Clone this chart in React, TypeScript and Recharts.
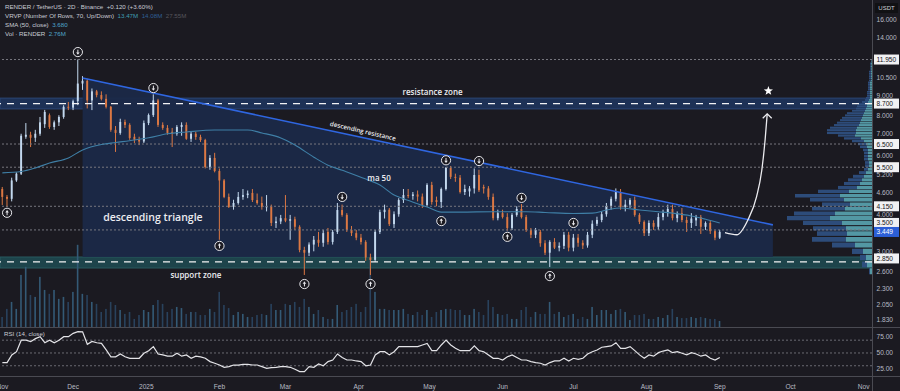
import React from 'react';
import { ComposedChart, Bar, Line, Area, XAxis, YAxis, ReferenceLine, ReferenceArea, ReferenceDot } from 'recharts';

// RENDER / USDT, 2D candles, Nov 2024 - Sep 2025. Values.
// [open, high, low, close]
const candles: [number, number, number, number][] = [
  [4.70, 4.77, 4.19, 4.44], [4.44, 4.50, 4.13, 4.38], [4.38, 5.10, 4.30, 5.00], [5.00, 5.30, 4.95, 5.25],
  [5.25, 7.00, 5.20, 6.90], [6.85, 7.56, 6.75, 6.95], [6.95, 7.10, 6.36, 6.80], [6.80, 7.20, 6.60, 7.00],
  [7.00, 7.90, 6.90, 7.60], [7.50, 8.31, 7.30, 8.19], [8.00, 8.10, 7.25, 7.35], [7.35, 7.70, 7.20, 7.60],
  [7.60, 8.00, 7.40, 7.90], [7.90, 8.60, 7.80, 8.50], [8.50, 8.80, 8.30, 8.45], [8.45, 8.95, 8.30, 8.85],
  [8.85, 11.95, 8.60, 10.05], [10.05, 10.60, 9.60, 10.25], [10.25, 10.40, 8.40, 8.90], [8.90, 9.70, 8.30, 9.50],
  [9.50, 9.60, 9.10, 9.25], [9.25, 9.50, 8.90, 9.00], [9.00, 9.30, 8.40, 8.50], [8.50, 8.55, 7.10, 7.20],
  [7.20, 7.40, 6.14, 7.04], [7.04, 7.80, 6.95, 7.62], [7.62, 7.75, 7.30, 7.46], [7.46, 7.55, 6.70, 6.79],
  [6.85, 7.00, 6.55, 6.70], [6.70, 6.85, 6.45, 6.62], [6.62, 7.70, 6.55, 7.56], [7.56, 8.10, 7.45, 8.01],
  [8.01, 9.30, 7.90, 8.90], [8.90, 9.00, 7.35, 7.46], [7.46, 7.60, 7.20, 7.30], [7.30, 7.45, 6.95, 7.04],
  [7.10, 7.30, 6.36, 7.00], [7.00, 7.45, 6.90, 7.35], [7.35, 7.60, 6.90, 7.46], [7.46, 7.60, 6.70, 6.75],
  [6.75, 7.10, 6.60, 7.00], [7.00, 7.10, 6.70, 6.84], [6.84, 6.95, 6.60, 6.69], [6.69, 6.75, 5.45, 5.51],
  [5.51, 6.00, 5.40, 5.88], [5.88, 6.10, 5.30, 5.35], [5.35, 5.45, 3.26, 5.00], [5.00, 5.05, 4.40, 4.44],
  [4.44, 4.55, 4.10, 4.13], [4.13, 4.35, 4.05, 4.25], [4.25, 4.60, 4.20, 4.44], [4.44, 4.70, 4.35, 4.50],
  [4.50, 4.65, 4.40, 4.55], [4.57, 4.70, 4.28, 4.34], [4.34, 4.55, 4.20, 4.25], [4.25, 4.45, 4.05, 4.13],
  [4.13, 4.50, 4.00, 4.15], [4.15, 4.20, 3.60, 3.68], [3.68, 3.85, 3.55, 3.72], [3.72, 3.90, 3.65, 3.81],
  [3.81, 4.50, 3.70, 3.74], [3.74, 3.90, 3.26, 3.78], [3.78, 3.85, 3.50, 3.58], [3.58, 3.62, 2.98, 3.03],
  [3.03, 3.10, 2.53, 2.97], [2.97, 3.20, 2.90, 3.15], [3.15, 3.35, 3.00, 3.26], [3.26, 3.45, 3.10, 3.19],
  [3.19, 3.50, 3.10, 3.42], [3.45, 3.55, 3.15, 3.21], [3.21, 3.50, 3.15, 3.45], [3.45, 4.25, 3.40, 4.04],
  [4.04, 4.20, 3.85, 3.90], [3.90, 3.95, 3.45, 3.50], [3.50, 3.60, 3.35, 3.42], [3.42, 3.50, 3.25, 3.31],
  [3.31, 3.40, 3.15, 3.21], [3.21, 3.25, 2.80, 2.87], [2.87, 2.95, 2.53, 2.82], [2.82, 3.50, 2.78, 3.45],
  [3.45, 4.05, 3.40, 3.98], [3.98, 4.20, 3.80, 4.05], [4.05, 4.10, 3.60, 3.65], [3.65, 4.00, 3.55, 3.92],
  [3.92, 4.40, 3.85, 4.34], [4.34, 4.70, 4.25, 4.50], [4.50, 4.70, 4.40, 4.47], [4.47, 4.60, 4.35, 4.52],
  [4.52, 4.65, 4.30, 4.45], [4.45, 4.55, 4.10, 4.19], [4.19, 4.90, 4.15, 4.84], [4.84, 4.95, 4.20, 4.28],
  [4.34, 4.45, 4.15, 4.28], [4.28, 4.75, 4.10, 4.70], [4.70, 5.51, 4.65, 5.47], [5.47, 5.55, 5.05, 5.13],
  [5.13, 5.25, 4.95, 5.10], [5.10, 5.20, 4.55, 4.60], [4.60, 4.85, 4.50, 4.70], [4.62, 4.80, 4.45, 4.72],
  [4.72, 5.45, 4.55, 5.20], [5.20, 5.40, 4.60, 4.66], [4.77, 4.85, 4.55, 4.72], [4.72, 4.80, 4.35, 4.44],
  [4.44, 4.55, 3.75, 3.81], [3.81, 4.05, 3.75, 3.95], [3.95, 4.05, 3.80, 3.84], [3.84, 3.95, 3.48, 3.55],
  [3.55, 3.95, 3.50, 3.90], [3.90, 4.15, 3.85, 4.07], [4.07, 4.22, 3.80, 3.84], [3.84, 3.90, 3.45, 3.50],
  [3.50, 3.55, 3.30, 3.38], [3.38, 3.55, 3.30, 3.50], [3.45, 3.50, 3.10, 3.18], [3.18, 3.25, 2.92, 2.97],
  [2.97, 3.25, 2.68, 3.21], [3.21, 3.30, 3.05, 3.08], [3.08, 3.20, 3.00, 3.12], [3.12, 3.45, 3.05, 3.38],
  [3.38, 3.45, 3.00, 3.08], [3.08, 3.40, 3.00, 3.31], [3.31, 3.40, 3.10, 3.19], [3.19, 3.25, 3.05, 3.13],
  [3.13, 3.45, 3.08, 3.38], [3.38, 3.75, 3.30, 3.66], [3.66, 3.85, 3.60, 3.76], [3.76, 4.00, 3.70, 3.92],
  [3.92, 4.25, 3.85, 4.16], [4.16, 4.45, 4.05, 4.38], [4.38, 4.72, 4.30, 4.60], [4.60, 4.70, 4.05, 4.13],
  [4.13, 4.35, 4.00, 4.20], [4.20, 4.40, 4.10, 4.34], [4.34, 4.45, 3.85, 3.90], [3.90, 3.95, 3.65, 3.71],
  [3.71, 3.75, 3.35, 3.42], [3.42, 3.75, 3.35, 3.68], [3.68, 3.75, 3.50, 3.58], [3.58, 3.95, 3.50, 3.84],
  [3.84, 4.05, 3.75, 3.95], [3.95, 4.20, 3.85, 4.07], [4.07, 4.20, 3.75, 3.81], [3.81, 4.00, 3.70, 3.95],
  [3.95, 4.10, 3.70, 3.76], [3.76, 3.85, 3.45, 3.68], [3.68, 3.95, 3.55, 3.80], [3.75, 3.90, 3.60, 3.84],
  [3.84, 3.90, 3.40, 3.58], [3.58, 3.72, 3.50, 3.68], [3.68, 3.75, 3.40, 3.47], [3.47, 3.50, 3.25, 3.31],
  [3.31, 3.50, 3.28, 3.45],
];

// volume per candle, millions
const volumes = [
  4.6, 8.3, 11.5, 8.3, 23.9, 27.6, 14.7, 13.8, 23, 17,
  15.2, 17, 12.9, 13.8, 11.5, 16.1, 37.7, 15.2, 14.7, 11.5,
  10.6, 6.9, 8.3, 11.5, 10.1, 7.8, 6, 6.9, 3.7, 5.5,
  7.8, 6.9, 10.1, 12.4, 10.6, 6.9, 8.3, 9.2, 8.7, 6,
  6.9, 6.9, 5.5, 5.5, 8.3, 6.9, 16.1, 10.1, 8.7, 5.5,
  6.9, 6, 4.6, 4.6, 5.5, 6, 5.5, 10.6, 7.8, 7.8,
  10.6, 10.1, 11.5, 9.2, 12.9, 9.2, 6, 7.8, 4.6, 3.7,
  3.7, 10.1, 6.9, 7.8, 9.2, 10.6, 6.9, 9.2, 31.3, 16.1,
  8.3, 8.3, 7.8, 7.8, 7.8, 8.3, 6, 5.5, 6.9, 5.5,
  7.8, 4.6, 6.9, 7.8, 8.3, 8.3, 7.8, 7.8, 5.5, 5.5,
  8.3, 6.9, 5.5, 12.4, 9.2, 6, 5.5, 6, 3.7, 3.7,
  7.8, 9.2, 4.6, 6.9, 6, 6, 11.5, 6, 6.9, 4.6,
  5.5, 6, 3.7, 4.6, 3.7, 9.2, 5.5, 7.8, 7.8, 6,
  7.8, 8.3, 6.9, 3.2, 5.5, 5.5, 6, 3.7, 3.7, 4.6,
  4.1, 5.5, 8.3, 4.6, 4.1, 4.1, 4.6, 4.1, 4.6, 4.1,
  3.7, 3.7, 2.76,
];

const rsiValues = [
  35, 35, 47, 52, 70, 70, 67.7, 72.4, 75.5, 66,
  70, 66, 70, 75.5, 75.5, 80.7, 83.3, 83, 63.6, 68,
  66, 65, 54.7, 44, 44, 48.4, 44, 41.7, 41.7, 41.7,
  49.5, 53.6, 59.9, 48.4, 46.9, 45, 45, 49.5, 45, 47,
  41.7, 45, 44, 41.7, 36.5, 33.9, 31.2, 27.6, 28.6, 31.2,
  31, 32.3, 32.3, 31.2, 31.2, 28.6, 26, 27, 27.6, 28.6,
  28.6, 27.6, 24.5, 20.8, 20.8, 28.6, 27.6, 32.8, 30, 36.5,
  39, 48.4, 43, 39, 39, 37.5, 36.5, 30, 31.2, 47,
  52, 52, 47, 52, 59.9, 60, 60, 60, 60, 62.5,
  65, 53.6, 53.6, 62.5, 70, 62.5, 57.3, 53.6, 53.6, 53.6,
  61, 53.6, 52, 47, 41.7, 41.7, 39, 44, 47, 43,
  39, 39, 36.5, 35, 33.9, 31.2, 35, 37.5, 37.5, 41.7,
  37.5, 41.7, 40.1, 41.7, 48.4, 52, 54.7, 58.9, 60, 61,
  66, 57.3, 57.3, 60, 53.6, 47, 41.7, 47, 45, 50.5,
  53, 54.7, 50.5, 52, 49.5, 47, 50.5, 48.4, 45, 47,
  41.7, 39, 43,
];

// [candle index, SMA 50]
const smaPoints: [number, number][] = [
  [0, 5.28], [4, 5.33], [7, 5.47], [10, 5.67], [14, 5.88], [17, 6.23], [21, 6.48], [24, 6.57],
  [28, 6.69], [31, 6.80], [35, 7.0], [39, 7.09], [45, 7.19], [52, 7.19], [55, 7.04], [59, 6.79],
  [62, 6.45], [66, 5.91], [69, 5.58], [72, 5.38], [77, 5.05], [80, 4.84], [83, 4.50], [85, 4.38],
  [90, 4.13], [93, 3.98], [97, 3.98], [104, 3.99], [111, 3.99], [115, 3.97], [121, 3.94], [125, 3.95],
  [128, 4.04], [131, 4.10], [135, 4.04], [139, 3.99], [142, 3.95], [146, 3.87], [149, 3.78], [152, 3.68],
];

// day 0 = 31 Oct 2024
const monthDays = [1, 31, 62, 93, 121, 152, 182, 213, 243, 274, 305, 335, 366];
const monthLabels = ['Nov', 'Dec', '2025', 'Feb', 'Mar', 'Apr', 'May', 'Jun', 'Jul', 'Aug', 'Sep', 'Oct', 'Nov'];

const plainTicks = [16, 14, 10.5, 9, 8, 7, 6, 5.2, 4.6, 4, 3, 2.6, 2.3, 2.05, 1.83];
const levelTicks = [11.95, 8.7, 6.5, 5.5, 4.15, 3.5, 2.85];
const lastPrice = 3.449;
const rsiTicks = [25, 50, 75];

// visible range volume profile: 70 rows, row mid price, up / down volume
const vpStep = 0.1346;
const vpPrice = [
  2.60, 2.73, 2.87, 3.00, 3.14, 3.27, 3.41, 3.54, 3.68, 3.81, 3.94, 4.08, 4.21, 4.35,
  4.48, 4.62, 4.75, 4.89, 5.02, 5.15, 5.29, 5.42, 5.56, 5.69, 5.83, 5.96, 6.10, 6.23,
  6.37, 6.50, 6.64, 6.77, 6.91, 7.04, 7.18, 7.31, 7.45, 7.58, 7.72, 7.85, 7.99, 8.12,
  8.26, 8.39, 8.53, 8.66, 8.80, 8.93, 9.07, 9.20, 9.34, 9.47, 9.61, 9.74, 9.88, 10.01,
  10.15, 10.28, 10.42, 10.55, 10.69, 10.82, 10.96, 11.09, 11.23, 11.36, 11.50, 11.63, 11.77, 11.90,
];
const vpUp = [
  2, 5, 6, 9, 17, 26, 25, 26, 30, 42, 37, 27, 22, 28,
  32, 23, 15, 12, 10, 8, 6, 4, 3, 3, 4, 4, 4, 4,
  5, 6, 8, 11, 17, 16, 16, 15, 13, 12, 11, 10, 9, 8,
  7, 6, 5, 5, 4, 3, 2, 2, 2, 2, 2, 2, 2, 2,
  2, 1, 1, 1, 1, 1, 1, 1, 1, 1, 1, 1, 0.5, 0.5,
];
const vpDown = [
  1, 5, 6, 11, 23, 34, 30, 33, 39, 43, 41, 33, 28, 34,
  45, 31, 19, 16, 14, 11, 7, 4, 4, 4, 4, 4, 4, 5,
  7, 8, 12, 17, 17, 29, 29, 27, 25, 23, 21, 20, 18, 17,
  13, 10, 10, 9, 6, 4, 4, 3, 3, 3, 2, 2, 2, 2,
  2, 2, 2, 2, 2, 2, 2, 1, 1, 1, 1, 1, 0.5, 0.5,
];

// drawings: [day, price]
const resistanceLine: [number, number][] = [[35, 10.46], [327.5, 3.63]];
const projection: [number, number][] = [
  [307.2, 3.43], [312.2, 3.38], [316.9, 3.76], [320.6, 4.45], [322.8, 5.38], [324.2, 6.69], [325.1, 8.08],
];
const target: [number, number] = [325.6, 9.53];
const highMarks: [number, number][] = [[33, 12.61], [65, 9.73], [145, 4.44], [189, 5.78], [203, 5.75], [221, 4.41], [243, 3.68]];
const lowMarks: [number, number][] = [[3, 3.96], [93, 3.12], [129, 2.37], [157, 2.37], [187, 3.73], [215, 3.33], [233, 2.51]];
const resistanceZone: [number, number] = [8.37, 9.05];
const resistanceLevel = 8.7;
const supportZone: [number, number] = [2.66, 2.88];
const supportLevel = 2.78;
const dottedLevels = [11.95, 6.5, 5.5, 4.15, 3.5];

const notes = [
  { text: 'resistance zone', day: 183.3, price: 9.46, size: 8, angle: 0 },
  { text: 'descending resistance', day: 153.8, price: 7.15, size: 6.3, angle: 13 },
  { text: 'ma 50', day: 160.6, price: 5.12, size: 8, angle: 0 },
  { text: 'descending triangle', day: 64.8, price: 3.84, size: 10.5, angle: 0 },
  { text: 'support zone', day: 83, price: 2.53, size: 8, angle: 0 },
];

const W = 900;
const MAIN_H = 327;
const AXIS_W = 28;
const AXIS_X = W - AXIS_W;
const X_DOMAIN: [number, number] = [0, 369.5];
const PX_PER_DAY = AXIS_X / X_DOMAIN[1];
const P_DOMAIN: [number, number] = [1.739, 18.35];
const BG = '#1b1a21';
const UP = '#c3d8ee';
const DOWN = '#dc7843';
const TXT = '#b8bbc4';
const FONT = '"Liberation Sans", Arial, sans-serif';
const NOTE_FONT = '"Open Sans", "Noto Sans", sans-serif';

type Row = {
  day: number; o?: number; h?: number; l?: number; c?: number; range?: [number, number];
  vol?: number; rsi?: number; sma?: number; tri?: [number, number]; proj?: number;
};
const rowMap = new Map<number, Row>();
const rowAt = (day: number) => {
  let r = rowMap.get(day);
  if (!r) { r = { day }; rowMap.set(day, r); }
  return r;
};
candles.forEach(([o, h, l, c], i) =>
  Object.assign(rowAt(1 + 2 * i), { o, h, l, c, range: [l, h], vol: volumes[i], rsi: rsiValues[i] }));
smaPoints.forEach(([i, v]) => { rowAt(1 + 2 * i).sma = v; });
resistanceLine.forEach(([d, p]) => { rowAt(d).tri = [supportZone[1], p]; });
projection.forEach(([d, p]) => { rowAt(d).proj = p; });
const rows = [...rowMap.values()].sort((a, b) => a.day - b.day);

const Candle = (props: any) => {
  const { x, y, width, height, payload } = props;
  if (!payload || payload.o == null || !Number.isFinite(y)) return <g />;
  const { o, h, l, c } = payload;
  const top = Math.min(y, y + height);
  const span = Math.abs(height);
  const lh = Math.log(h), ll = Math.log(l);
  const py = (v: number) => (lh > ll ? top + (span * (lh - Math.log(v))) / (lh - ll) : top);
  const color = c >= o ? UP : DOWN;
  const b1 = py(Math.max(o, c));
  const b2 = py(Math.min(o, c));
  const cx = x + width / 2;
  return (
    <g>
      <line x1={cx} x2={cx} y1={top} y2={top + span} stroke={color} strokeWidth={1} />
      <rect x={x} y={b1} width={width} height={Math.max(1, b2 - b1)} fill={color} />
    </g>
  );
};

const VolBar = (props: any) => {
  const { x, y, width, height, payload } = props;
  if (!payload || payload.vol == null || !Number.isFinite(y)) return <g />;
  return <rect x={x} y={y} width={width} height={Math.max(0, height)} fill={payload.c >= payload.o ? '#345a76' : '#29425d'} />;
};

const PriceTick = (props: any) => {
  const { y, payload } = props;
  const v = payload.value as number;
  const label = v.toFixed(3);
  const isLast = v === lastPrice;
  const boxed = isLast || levelTicks.includes(v);
  if (boxed) {
    const yy = v === 3.5 ? y - 7 : y;
    return (
      <g>
        <rect x={AXIS_X + 2} y={yy - 5} width={25} height={10} fill={isLast ? '#2c5fd6' : '#f1f1f3'} />
        <text x={AXIS_X + 4.5} y={yy + 2.5} fontSize={6.6} fontFamily={FONT} fill={isLast ? '#ffffff' : '#131316'}>{label}</text>
      </g>
    );
  }
  // labels that sit under a level box are nudged clear of it
  const dy = v === 9 ? -3 : v === 4 ? 3 : 0;
  return <text x={AXIS_X + 4.5} y={y + 2.5 + dy} fontSize={6.6} fontFamily={FONT} fill={TXT}>{label}</text>;
};

const RsiTick = (props: any) => (
  <text x={AXIS_X + 4.5} y={props.y + 2.5} fontSize={6.6} fontFamily={FONT} fill={TXT}>
    {(props.payload.value as number).toFixed(2)}
  </text>
);

const TimeTick = (props: any) => {
  const idx = monthDays.indexOf(props.payload.value);
  return (
    <text x={props.x} y={props.y + 5} textAnchor="middle" fontSize={6.6} fontFamily={FONT} fill={TXT}>
      {monthLabels[idx]}
    </text>
  );
};

const Marker = ({ cx, cy, dir }: { cx: number; cy: number; dir: 'up' | 'down' }) => {
  const s = dir === 'down' ? 1 : -1;
  return (
    <g>
      <circle cx={cx} cy={cy} r={4.6} fill={BG} stroke="#e8e8ec" strokeWidth={1} />
      <line x1={cx} x2={cx} y1={cy - 2.4 * s} y2={cy + 2.2 * s} stroke="#e8e8ec" strokeWidth={1} />
      <path d={`M${cx - 1.8} ${cy + 0.4 * s} L${cx} ${cy + 2.5 * s} L${cx + 1.8} ${cy + 0.4 * s} Z`} fill="#e8e8ec" />
    </g>
  );
};

const Star = ({ cx, cy }: { cx: number; cy: number }) => {
  const pts: string[] = [];
  for (let k = 0; k < 10; k++) {
    const r = k % 2 === 0 ? 4.8 : 2;
    const a = -Math.PI / 2 + (k * Math.PI) / 5;
    pts.push(`${cx + r * Math.cos(a)},${cy + r * Math.sin(a)}`);
  }
  return <polygon points={pts.join(' ')} fill="#ffffff" />;
};

const Note = ({ cx, cy, text, size, angle }: any) => (
  <text
    x={cx} y={cy} textAnchor="middle" dominantBaseline="central" fontSize={size} fontWeight={600}
    fontFamily={NOTE_FONT} fill="#ececf0" transform={angle ? `rotate(${angle} ${cx} ${cy})` : undefined}
  >
    {text}
  </text>
);

export default function App() {
  const last = projection[projection.length - 1];
  const right = X_DOMAIN[1];
  return (
    <div style={{ position: 'absolute', left: 0, top: 0, width: W, height: 391, background: BG, overflow: 'hidden' }}>
      <div style={{ position: 'absolute', left: 0, top: 0 }}>
        <ComposedChart width={W} height={MAIN_H} data={rows} margin={{ top: 0, right: 0, left: 0, bottom: 0 }}>
          <XAxis dataKey="day" type="number" domain={X_DOMAIN} allowDataOverflow hide />
          <XAxis xAxisId="vx" dataKey="day" type="number" domain={X_DOMAIN} allowDataOverflow hide />
          <YAxis
            orientation="right" width={AXIS_W} scale="log" domain={P_DOMAIN} allowDataOverflow
            ticks={[...plainTicks, ...levelTicks, lastPrice]} interval={0} tick={<PriceTick />}
            tickLine={false} axisLine={false}
          />
          <YAxis yAxisId="vol" hide domain={[0, 150]} />

          <ReferenceArea y1={resistanceZone[0]} y2={resistanceZone[1]} fill="#1d3156" fillOpacity={1} stroke="#2b4573" />
          <ReferenceArea y1={supportZone[0]} y2={supportZone[1]} fill="#1d444b" fillOpacity={1} stroke="#285a60" />

          {/* volume profile rows: down part outside, up part next to the axis */}
          {vpPrice.map((p, k) => (
            <ReferenceArea
              key={`vd${k}`} x1={right - (vpUp[k] + vpDown[k]) / PX_PER_DAY} x2={right - vpUp[k] / PX_PER_DAY}
              y1={p - vpStep * 0.42} y2={p + vpStep * 0.42} fill="#2e4f80" fillOpacity={0.95} stroke="none"
            />
          ))}
          {vpPrice.map((p, k) => (
            <ReferenceArea
              key={`vu${k}`} x1={right - vpUp[k] / PX_PER_DAY} x2={right}
              y1={p - vpStep * 0.42} y2={p + vpStep * 0.42} fill="#569fac" fillOpacity={0.95} stroke="none"
            />
          ))}

          <Area dataKey="tri" type="linear" fill="#1b2948" fillOpacity={0.95} stroke="none" connectNulls dot={false} activeDot={false} isAnimationActive={false} />
          {dottedLevels.map((v) => (
            <ReferenceLine key={v} y={v} stroke="#77777f" strokeDasharray="2 2" strokeWidth={1} />
          ))}
          <ReferenceLine y={resistanceLevel} stroke="#f2f2f4" strokeDasharray="7 6" strokeWidth={1.3} />
          <ReferenceLine y={supportLevel} stroke="#f2f2f4" strokeDasharray="7 6" strokeWidth={1.3} />

          <Bar xAxisId="vx" yAxisId="vol" dataKey="vol" barSize={1.6} shape={<VolBar />} isAnimationActive={false} />
          <Line dataKey="sma" type="monotone" stroke="#3f7fa6" strokeWidth={1.1} dot={false} activeDot={false} connectNulls isAnimationActive={false} />
          <Bar dataKey="range" barSize={3.6} shape={<Candle />} isAnimationActive={false} />
          <ReferenceLine
            segment={[{ x: resistanceLine[0][0], y: resistanceLine[0][1] }, { x: resistanceLine[1][0], y: resistanceLine[1][1] }]}
            stroke="#2f66e0" strokeWidth={1.6}
          />
          <Line dataKey="proj" type="monotone" stroke="#ececf0" strokeWidth={1.3} dot={false} activeDot={false} connectNulls isAnimationActive={false} />
          <ReferenceDot
            x={last[0]} y={last[1]} r={0}
            shape={(p: any) => <path d={`M${p.cx - 4.5} ${p.cy + 4.5} L${p.cx} ${p.cy} L${p.cx + 4.5} ${p.cy + 4.5}`} stroke="#ececf0" strokeWidth={1.3} fill="none" />}
          />
          <ReferenceDot x={target[0]} y={target[1]} r={0} shape={(p: any) => <Star cx={p.cx} cy={p.cy} />} />
          {highMarks.map(([d, p]) => (
            <ReferenceDot key={`h${d}`} x={d} y={p} r={0} shape={(q: any) => <Marker cx={q.cx} cy={q.cy} dir="down" />} />
          ))}
          {lowMarks.map(([d, p]) => (
            <ReferenceDot key={`l${d}`} x={d} y={p} r={0} shape={(q: any) => <Marker cx={q.cx} cy={q.cy} dir="up" />} />
          ))}
          {notes.map((n) => (
            <ReferenceDot key={n.text} x={n.day} y={n.price} r={0} shape={(q: any) => <Note cx={q.cx} cy={q.cy} {...n} />} />
          ))}
        </ComposedChart>
      </div>

      <div style={{ position: 'absolute', left: 0, top: MAIN_H }}>
        <ComposedChart width={W} height={64} data={rows} margin={{ top: 0, right: 0, left: 0, bottom: 0 }}>
          <XAxis
            dataKey="day" type="number" domain={X_DOMAIN} allowDataOverflow height={15}
            ticks={monthDays} interval={0} tick={<TimeTick />} tickLine={false} axisLine={false}
          />
          <YAxis
            orientation="right" width={AXIS_W} domain={[14, 90.6]} allowDataOverflow
            ticks={rsiTicks} interval={0} tick={<RsiTick />} tickLine={false} axisLine={false}
          />
          <ReferenceLine y={70} stroke="#6a6a72" strokeDasharray="2 2" />
          <ReferenceLine y={50} stroke="#6a6a72" strokeDasharray="2 2" />
          <ReferenceLine y={30} stroke="#6a6a72" strokeDasharray="2 2" />
          <Line dataKey="rsi" type="linear" stroke="#e4e4e8" strokeWidth={1.2} dot={false} activeDot={false} isAnimationActive={false} />
        </ComposedChart>
      </div>

      {/* pane separators */}
      <div style={{ position: 'absolute', left: 0, top: MAIN_H, width: W, height: 1, background: '#4a4a52' }} />
      <div style={{ position: 'absolute', left: 0, top: 376, width: W, height: 1, background: '#4a4a52' }} />
      <div style={{ position: 'absolute', left: AXIS_X, top: 0, width: 1, height: 391, background: '#4a4a52' }} />

      {/* legend */}
      <div style={{ position: 'absolute', left: 5, top: 2, fontFamily: FONT, fontSize: 6.2, lineHeight: '9px', color: '#c9ccd4', whiteSpace: 'nowrap' }}>
        <div>RENDER / TetherUS · 2D · Binance&nbsp;&nbsp;<span>+0.120 (+3.60%)</span></div>
        <div>
          VRVP (Number Of Rows, 70, Up/Down)&nbsp;&nbsp;<span style={{ color: '#3f9db2' }}>13.47M</span>&nbsp;&nbsp;
          <span style={{ color: '#2f5f96' }}>14.08M</span>&nbsp;&nbsp;<span style={{ color: '#55555c' }}>27.55M</span>
        </div>
        <div>SMA (50, close)&nbsp;&nbsp;<span style={{ color: '#4fa6cc' }}>3.680</span></div>
        <div>Vol · RENDER&nbsp;&nbsp;<span style={{ color: '#4fa6cc' }}>2.76M</span></div>
      </div>
      <div style={{ position: 'absolute', left: 4, top: 330, fontFamily: FONT, fontSize: 6.2, color: '#c9ccd4' }}>RSI (14, close)</div>
      <div style={{ position: 'absolute', left: AXIS_X + 3, top: 3, width: 23, height: 10, background: '#111114', color: '#d0d2d8', fontFamily: FONT, fontSize: 6, lineHeight: '10px', textAlign: 'center' }}>USDT</div>
    </div>
  );
}
